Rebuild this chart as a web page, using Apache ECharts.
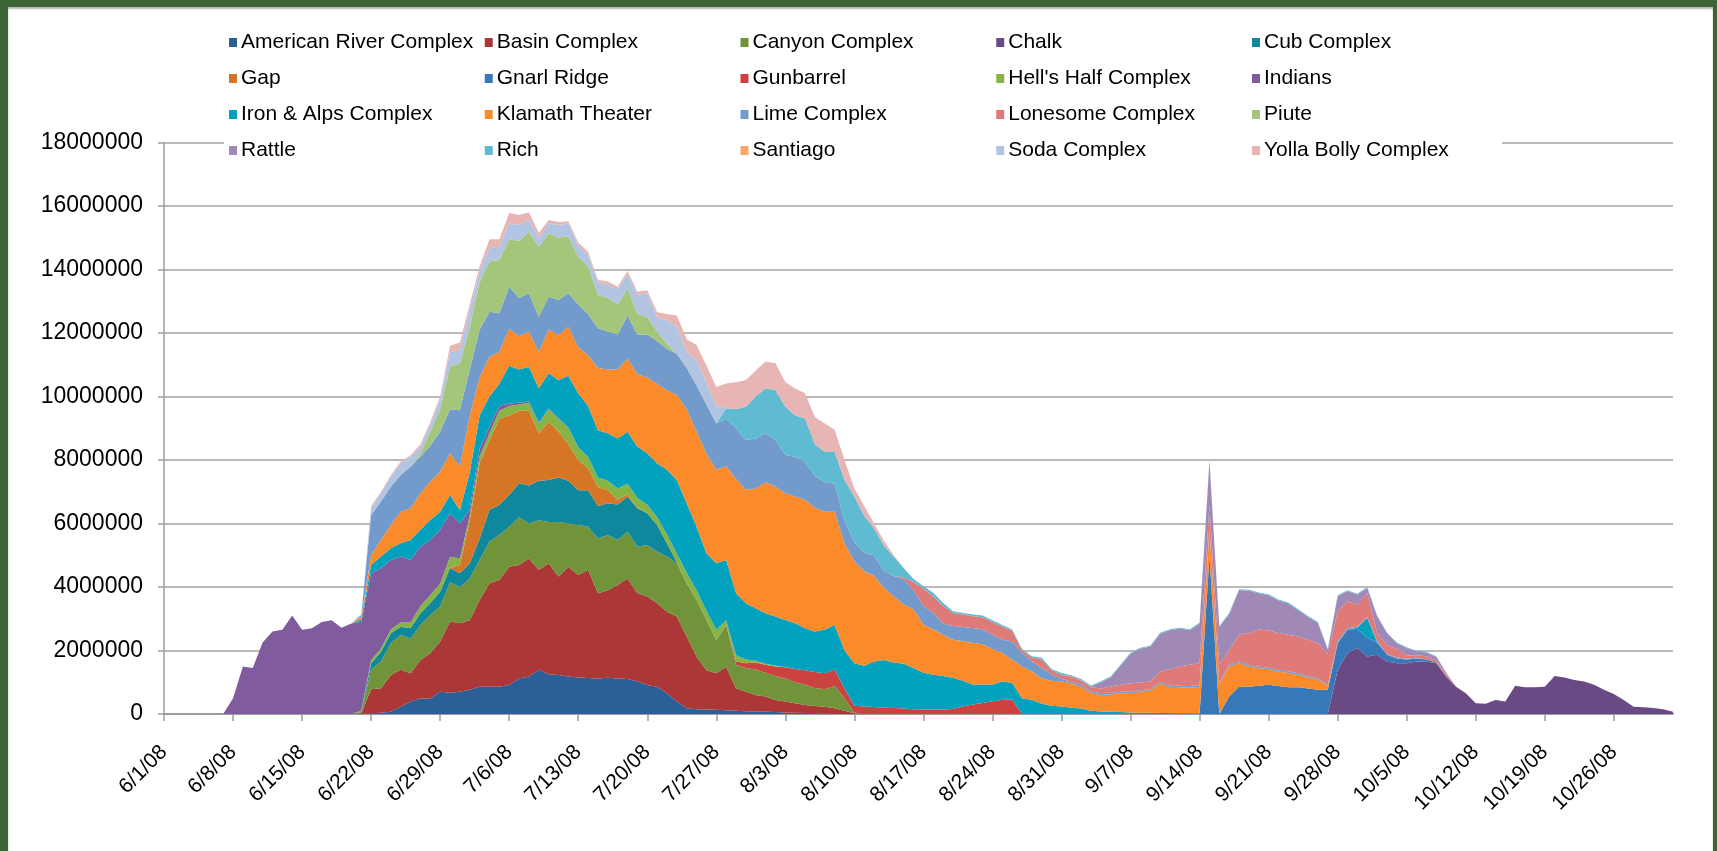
<!DOCTYPE html>
<html>
<head>
<meta charset="utf-8">
<script src="https://cdn.jsdelivr.net/npm/echarts@6/dist/echarts.min.js"></script>
<style>
  html, body { margin: 0; padding: 0; width: 1717px; height: 851px; overflow: hidden; background: #3d6434; }
  #panel { position: absolute; left: 8px; top: 7px; width: 1705px; height: 844px; background: #ffffff; box-shadow: inset 0 2px 2px #b8b8b8; }
  #chart { position: absolute; left: 0; top: 0; width: 1717px; height: 851px; }
</style>
</head>
<body>
<div id="panel"></div>
<div id="chart"></div>
<script>
// ---------- DATA (values in millions; day 0 = 6/1/08, last day = 11/1/08) ----------
const monthDays = [[6, 30], [7, 31], [8, 31], [9, 30], [10, 31], [11, 1]];
const yTickLabels = ['0','2000000','4000000','6000000','8000000','10000000','12000000','14000000','16000000','18000000'];

const fireNames = ['American River Complex','Basin Complex','Canyon Complex','Chalk','Cub Complex',
  'Gap','Gnarl Ridge','Gunbarrel',"Hell's Half Complex",'Indians',
  'Iron & Alps Complex','Klamath Theater','Lime Complex','Lonesome Complex','Piute',
  'Rattle','Rich','Santiago','Soda Complex','Yolla Bolly Complex'];

const americanRiverStart = 21;
const americanRiver = [.02,.04,.07,.23,.39,.49,.49,.7,.67,.7,
  .76,.86,.86,.86,.91,1.12,1.18,1.39,1.25,1.23,
  1.18,1.15,1.13,1.12,1.14,1.12,1.1,1.02,.91,.86,
  .65,.39,.18,.15,.14,.13,.12,.1,.09,.08,
  .07,.06,.05,.04,.03,.02,.01];

const basinStart = 20;
const basin = [.02,
  .76,.77,1.16,1.16,.89,1.21,1.42,1.58,2.24,2.16,
  2.19,2.73,3.26,3.36,3.73,3.57,3.72,3.15,3.5,3.1,
  3.46,3.23,3.41,2.68,2.76,2.94,3.17,2.78,2.79,2.63,
  2.57,2.68,2.26,1.66,1.24,1.15,1.37,.71,.61,.52,
  .48,.38,.34,.3,.25,.23,.22,.18,.1,.02];

const canyonStart = 20;
const canyon = [.04,
  .61,.84,1.0,1.1,1.1,1.1,1.21,1.1,1.24,1.14,
  1.32,1.26,1.31,1.42,1.26,1.51,1.1,1.56,1.3,1.72,
  1.36,1.57,1.36,1.73,1.74,1.42,1.47,1.47,1.62,1.62,
  1.74,1.68,1.68,1.78,1.58,1.05,1.31,.74,.75,.8,
  .75,.76,.73,.66,.64,.57,.55,.7,.4,.03];

const chalkStart = 119;
const chalk = [1.39,1.92,2.08,1.81,1.87,1.65,1.6,1.6,1.65,1.65,
  1.6,1.18,.86,.65,.34,.32,.44,.39,.89,.84,
  .84,.86,1.2,1.15,1.07,1.02,.92,.76,.63,.44,
  .23,.21,.19,.15,.07];

const cubStart = 20;
const cub = [.02,
  .21,.31,.31,.26,.32,.37,.37,.47,.45,.43,
  .48,.68,1.0,.94,1.0,1.07,1.2,1.25,1.32,1.4,
  1.35,1.1,1.15,1.02,1.0,1.12,1.11,1.21,1.0,.84,
  .42,.03];

const gapStart = 30;
const gap = [.26,1.35,2.37,2.2,2.72,2.5,2.28,2.35,1.5,1.83,1.45,
  1.15,.95,.7,.6,.41,.15,.07,.02];

const gnarlStart = 106;
const gnarl = [4.97,0,.55,.86,.86,.89,.92,.88,.84,.84,
  .8,.76,.76,.84,.74,.6,.59,.38,.22,.15,
  .12,.1,.07,.02];

const gunbarrelStart = 58;
const gunbarrel = [.1,.15,.22,.25,.3,.35,.42,.46,.5,.5,
  .52,.3,.21,.24,.22,.2,.19,.17,.15,.14,
  .14,.14,.16,.24,.3,.35,.4,.45,.45];

const hellsHalfStart = 20;
const hellsHalf = [.02,
  .1,.1,.12,.13,.18,.23,.26,.25,.35,.21,
  .15,.2,.22,.25,.3,.2,.25,.3,.4,.4,
  .5,.4,.35,.3,.3,.35,.33,.3,.28,.25,
  .27,.27,.33,.31,.29,.32,.15,.2,.12,.06,
  .03,.02,.01];

const indiansStart = 6;
const indians = [0,.5,1.5,1.45,2.25,2.6,2.65,3.1,2.65,2.7,
  2.9,2.95,2.72,2.85,2.8,
  2.73,2.53,2.19,2.08,1.97,1.87,1.73,1.7,1.37,1.1,
  .2,.25,.2,.15,.08,.05,.04,.03,.02,.02,
  .02];

const ironAlpsStart = 20;
const ironAlps = [.08,
  .26,.37,.37,.42,.63,.53,.63,.57,.58,.42,
  1.15,1.05,.95,.7,1.19,1.05,1.1,1.08,1.11,1.2,
  1.63,1.7,1.6,1.49,1.49,1.58,1.64,1.62,1.61,1.7,
  2.04,2.32,2.19,2.0,1.81,2.1,1.9,1.95,1.77,1.65,
  1.59,1.55,1.48,1.44,1.32,1.28,1.38,1.4,1.2,1.34,
  1.28,1.43,1.5,1.43,1.41,1.3,1.16,1.1,1.06,.98,
  .81,.63,.58,.53,.58,.53,.5,.45,.32,.26,
  .24,.2,.17,.1,.08,.07,.06,.05,.04,.04,
  .03,.03,.02,.02,.02,.02,.01,0,0,0,
  0,0,0,0,0,0,0,0,0,0,
  .04,.62,.02];

const klamathStart = 20;
const klamath = [.08,
  .31,.52,.73,.99,1.0,1.15,1.21,1.26,1.31,1.37,
  1.8,1.2,1.25,1.0,1.16,1.05,1.1,1.15,1.37,1.42,
  1.55,1.45,1.6,1.96,2.01,2.17,2.31,2.28,2.39,2.5,
  2.5,2.68,2.96,3.0,3.14,2.94,2.95,3.6,3.57,3.77,
  4.13,4.09,3.99,3.99,4.04,3.9,3.71,3.57,3.38,3.2,
  2.98,2.7,2.28,2.08,1.87,1.85,1.52,1.42,1.3,1.2,
  1.25,1.31,1.27,1.12,.89,.73,1.0,.9,.8,.79,
  .78,.77,.69,.55,.52,.55,.59,.6,.66,.7,
  .92,.83,.82,.81,.84,.8,.9,.95,.74,.64,
  .55,.49,.46,.45,.39,.35,.31,.14];

const limeStart = 20;
const lime = [.06,
  1.27,1.21,1.21,1.16,1.31,1.15,1.13,1.27,1.39,1.78,
  1.45,1.5,1.42,1.22,1.33,1.2,1.21,1.1,1.04,1.1,
  1.05,1.35,1.3,1.25,1.2,1.1,1.35,1.25,1.35,1.35,
  1.31,1.3,1.3,1.45,1.55,1.46,1.5,1.6,1.57,1.58,
  1.54,1.47,1.21,1.25,1.21,1.0,.93,.88,.73,.6,
  .58,.65,.52,.65,.8,.6,.58,.54,.35,.43,
  .44,.47,.47,.45,.42,.58,.42,.31,.33,.2,
  .08,.05,.07,.05,.06,.05,.05,.05,.05,.05,
  .05,.05,.05,.05,.05,.05,.05,.05,.05,.05,
  .05,.05,.05,.05,.05,.05,.05,.02,.05,.04,
  .03,.03,.03,.03,.03,.02,.02];

const lonesomeStart = 75;
const lonesome = [.05,.25,.55,.5,.55,.41,.39,.37,.38,.4,
  .41,.33,.08,.12,.27,.13,.13,.16,.12,.14,
  .14,.2,.22,.27,.24,.23,.34,.5,.61,.67,
  .69,.75,.6,.45,.85,1.0,1.17,1.17,1.16,1.16,
  1.16,1.14,1.11,.98,.95,.85,.7,.76,.25,.28,
  .27,.1,.08,.1,.06,.07];

const piuteStart = 26;
const piute = [.1,.45,.7,1.35,1.48,
  1.35,1.5,1.58,1.68,1.49,1.8,1.94,2.21,2.0,1.96,
  1.8,1.5,1.5,1.05,1.05,.95,.85,.65,.55,.3,
  .15];

const rattleStart = 92;
const rattle = [.02,.02,.03,.2,.29,.61,.93,1.07,1.1,
  1.19,1.23,1.19,1.09,1.25,1.38,1.17,1.15,1.4,1.33,
  1.14,1.11,1.03,.98,.83,.72,.64,.12,.48,.32,
  .31,.16,.53,.37,.18,.24,.12,.12,.12,.05];

const richStart = 57;
const rich = [.33,.6,1.05,1.32,
  1.42,1.57,1.52,1.3,1.36,1.0,.95,1.0,1.26,1.45,
  1.16,.85,.8,.6,.3,.1,.07,.12,.1,.06,
  .05,.05,.05,.05,.05,.04,.05,.04,.05,.04,
  .06,.02,.03,.03,.03,.03,.03,.03,.03,.03,
  .03,.03,.03,.03,.03,.03,.04,.03,.03,.03,
  .03,.03,.03,.03,.03,.03,.03,.03,.03,.03,
  .03,.03,.02,.02,.02,.02,.02,.02,.02];

const santiagoStart = 0;
const santiago = [];

const sodaStart = 20;
const soda = [.04,
  .23,.26,.32,.37,.31,.2,.2,.3,.45,.4,
  .52,.35,.42,.42,.5,.5,.37,.28,.31,.4,
  .4,.35,.35,.4,.42,.48,.45,.6,.75,.45,
  .75,.85,.5,.8,.7,.55];

const yollaStart = 21;
const yolla = [.05,.05,.04,.05,.05,.1,.1,.1,.2,.25,
  .18,.15,.28,.23,.33,.32,.24,.15,.11,.1,
  .07,.1,.11,.08,.1,.08,.1,.1,.1,.15,
  .2,.35,.4,.47,.52,.6,.78,.85,.84,.82,
  .84,.85,.77,.85,.79,.85,.9,.7,.63,.25,
  .31,.15,.15,.05];

// ---------- build ----------
const dates = [];
monthDays.forEach(([m, n]) => { for (let d = 1; d <= n; d++) dates.push(m + '/' + d + '/08'); });
const N = dates.length;
function pad(start, vals) {
  const out = new Array(N).fill(0);
  vals.forEach((v, i) => { out[start + i] = v; });
  return out;
}
const seriesValues = [
  pad(americanRiverStart, americanRiver), pad(basinStart, basin), pad(canyonStart, canyon),
  pad(chalkStart, chalk), pad(cubStart, cub), pad(gapStart, gap), pad(gnarlStart, gnarl),
  pad(gunbarrelStart, gunbarrel), pad(hellsHalfStart, hellsHalf), pad(indiansStart, indians),
  pad(ironAlpsStart, ironAlps), pad(klamathStart, klamath), pad(limeStart, lime),
  pad(lonesomeStart, lonesome), pad(piuteStart, piute), pad(rattleStart, rattle),
  pad(richStart, rich), pad(santiagoStart, santiago), pad(sodaStart, soda), pad(yollaStart, yolla)
];
const colors = ['#2b5f98','#ab3836','#71943a','#694a84','#0f879d',
  '#d77526','#3778b8','#cc4240','#88b445','#805b9d',
  '#02a2bf','#fb8a2b','#729acb','#e07a78','#a3c67b',
  '#a189b7','#5fbbd1','#fca46e','#b1c4e1','#e8b5b5'];

const FONT = "'Liberation Sans', Arial, sans-serif";
const weekly = (idx) => idx % 7 === 0;

const legends = [];
for (let c = 0; c < 5; c++) {
  legends.push({
    data: [fireNames[c], fireNames[c + 5], fireNames[c + 10], fireNames[c + 15]],
    orient: 'vertical', left: 229 + c * 255.75, top: 32, padding: 0,
    itemWidth: 8, itemHeight: 9, itemGap: 15, icon: 'rect', selectedMode: false, z: 10,
    textStyle: { fontSize: 21, lineHeight: 20, fontFamily: FONT, color: '#000', padding: [0, 0, 0, -1] }
  });
}

const chart = echarts.init(document.getElementById('chart'), null, { renderer: 'canvas' });
chart.setOption({
  animation: false,
  backgroundColor: 'transparent',
  color: colors,
  legend: legends,
  graphic: [{ type: 'rect', left: 224, top: 134, z: 5, shape: { width: 1278, height: 18 }, style: { fill: '#ffffff' } }],
  grid: { left: 164, right: 44, top: 142.5, bottom: 137 },
  xAxis: {
    type: 'category', data: dates, boundaryGap: false,
    axisLine: { lineStyle: { color: '#9c9c9c', width: 2 } },
    axisTick: { interval: weekly, length: 7, lineStyle: { color: '#9c9c9c', width: 1.5 } },
    axisLabel: { interval: weekly, rotate: 45, margin: 35, fontSize: 21, fontFamily: FONT, color: '#000',
      hideOverlap: false }
  },
  yAxis: {
    type: 'value', min: 0, max: 18, interval: 2,
    axisLine: { show: true, lineStyle: { color: '#9c9c9c', width: 1.5 } },
    axisTick: { show: true, length: 6, lineStyle: { color: '#9c9c9c', width: 1.5 } },
    splitLine: { lineStyle: { color: '#a3a3a3', width: 1.6 } },
    axisLabel: { margin: 21, fontSize: 23, fontFamily: FONT, color: '#000',
      formatter: (v) => yTickLabels[Math.round(v / 2)] }
  },
  series: fireNames.map((name, i) => ({
    name: name, type: 'line', stack: 'fires', data: seriesValues[i],
    symbol: 'none', showSymbol: false, smooth: false,
    lineStyle: { width: 0 },
    itemStyle: { color: colors[i] },
    areaStyle: { color: colors[i], opacity: 1 },
    emphasis: { disabled: true }
  }))
});
</script>
</body>
</html>
